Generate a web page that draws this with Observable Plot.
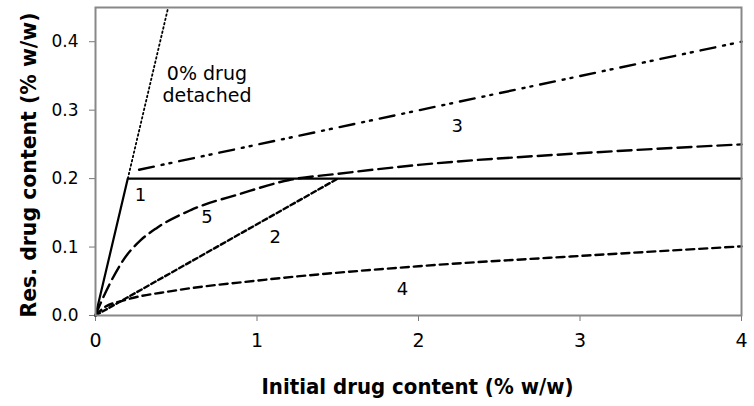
<!DOCTYPE html>
<html><head><meta charset="utf-8">
<script src="https://cdn.jsdelivr.net/npm/d3@7"></script>
<script src="https://cdn.jsdelivr.net/npm/@observablehq/plot@0.6"></script>
<style>body{margin:0;background:#fff} svg{display:block}</style>
</head><body><div id="chart"></div>
<script>
const xTicks = [0, 1, 2, 3, 4];
const yTicks = [0, 0.1, 0.2, 0.3, 0.4];
// curve 0: 0% drug detached (dotted, y = x)
const line0 = [[0.2, 0.2], [0.45, 0.45]];
// curve 1 (solid)
const line1 = [[0, 0], [0.2, 0.2], [4, 0.2]];
// curve 2 (short dash)
const line2 = [[0, 0], [1.5, 0.2]];
// curve 3 (dash-dot-dot)
const line3 = [[0.27, 0.213], [4, 0.4]];
// curve 4 (medium dash)
const line4 = [[0, 0], [0.05, 0.011], [0.175, 0.022], [0.48, 0.036], [1, 0.051], [2, 0.072], [3, 0.087], [4, 0.101]];
// curve 5 (long dash)
const line5 = [[0, 0], [0.03, 0.017], [0.09, 0.047], [0.175, 0.082], [0.28, 0.110], [0.38, 0.128], [0.59, 0.154], [0.9, 0.178], [1.2, 0.198], [1.5, 0.207], [2, 0.22], [3, 0.237], [4, 0.25]];
const curveLabels = [
  {x: 0.278, y: 0.176, t: "1"},
  {x: 1.113, y: 0.115, t: "2"},
  {x: 2.24, y: 0.276, t: "3"},
  {x: 1.9, y: 0.038, t: "4"},
  {x: 0.69, y: 0.144, t: "5"}
];
const noteLines = [
  {x: 0.69, y: 0.353, t: "0% drug"},
  {x: 0.69, y: 0.321, t: "detached"}
];
const xLabel = "Initial drug content (% w/w)";
const yLabel = "Res. drug content (% w/w)";

const lineOpts = {x: d => d[0], y: d => d[1], stroke: "black"};

const chart = Plot.plot({
  width: 754,
  height: 406,
  marginLeft: 95,
  marginRight: 13,
  marginTop: 7,
  marginBottom: 91,
  style: {fontFamily: "'DejaVu Sans', 'Liberation Sans', Arial, sans-serif", background: "white", color: "black"},
  x: {domain: [0, 4]},
  y: {domain: [0, 0.45]},
  marks: [
    Plot.axisX({ticks: xTicks, tickSize: 6, tickPadding: 12, fontSize: 19, stroke: "#777", label: null, tickFormat: d3.format("d")}),
    Plot.axisY({ticks: yTicks, tickSize: 6, tickPadding: 11, fontSize: 17, stroke: "#777", label: null, tickFormat: d3.format(".1f")}),
    Plot.line(line0, {...lineOpts, strokeWidth: 1.8, strokeDasharray: "1.6,2.8"}),
    Plot.line(line4, {...lineOpts, strokeWidth: 2.4, strokeDasharray: "8,5", curve: "monotone-x"}),
    Plot.line(line2, {...lineOpts, strokeWidth: 2.4, strokeDasharray: "5,3"}),
    Plot.line(line5, {...lineOpts, strokeWidth: 2.4, strokeDasharray: "14,6", curve: "monotone-x"}),
    Plot.line(line3, {...lineOpts, strokeWidth: 2.4, strokeDasharray: "15,8,2,6,2,8"}),
    Plot.line(line1, {...lineOpts, strokeWidth: 2.2}),
    Plot.text(curveLabels, {x: "x", y: "y", text: "t", fontSize: 18, lineAnchor: "middle", fill: "black"}),
    Plot.text(noteLines, {x: "x", y: "y", text: "t", fontSize: 19, lineAnchor: "middle", fill: "black"}),
    Plot.text([xLabel], {text: d => d, frameAnchor: "bottom", dy: 71.5, dx: -1, fontSize: 21, fontWeight: "bold", lineAnchor: "middle", fill: "black", className: "xlab"}),
    Plot.text([yLabel], {text: d => d, frameAnchor: "bottom-left", textAnchor: "start", rotate: -90, dx: -66, dy: 2, fontSize: 21, fontWeight: "bold", lineAnchor: "middle", fill: "black", className: "ylab"}),
    Plot.frame({stroke: "#888", strokeWidth: 2})
  ]
});
document.getElementById("chart").appendChild(chart);
d3.select(chart).selectAll(".xlab text").attr("textLength", 312).attr("lengthAdjust", "spacingAndGlyphs");
d3.select(chart).selectAll(".ylab text").attr("textLength", 305).attr("lengthAdjust", "spacingAndGlyphs");
</script>
</body></html>
